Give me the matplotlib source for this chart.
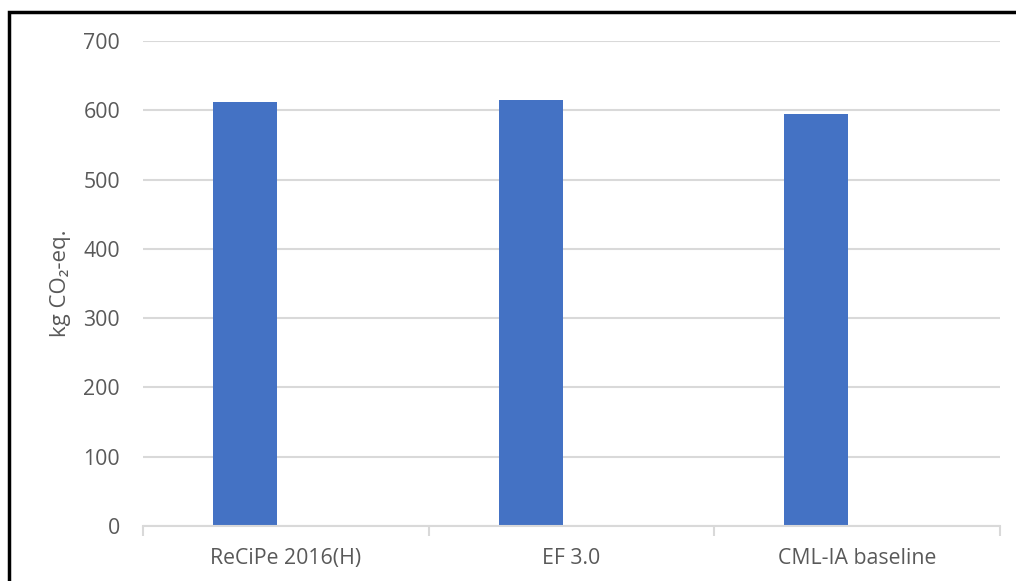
import matplotlib.pyplot as plt
from matplotlib.patches import Rectangle
import numpy as np

# impact method results, global warming
methods = ["ReCiPe 2016(H)", "EF 3.0", "CML-IA baseline"]
gwp = [612, 615, 595]
y_ticks = [0, 100, 200, 300, 400, 500, 600, 700]

BAR_COLOR = "#4472C4"
GRID_COLOR = "#d9d9d9"
TEXT_COLOR = "#595959"
FS = 15.3

plt.rcParams["font.family"] = ["Open Sans", "DejaVu Sans"]

fig = plt.figure(figsize=(10.16, 5.81), dpi=100)
W, H = 1016, 581
ax = fig.add_axes([143 / W, (H - 526) / H, (1000 - 143) / W, (526 - 41) / H])

x = np.arange(len(methods))
# bars sit left of the category centre (second series slot is empty)
ax.bar(x - 0.143, gwp, width=0.224, color=BAR_COLOR, zorder=3)

ax.set_xlim(-0.5, len(methods) - 0.5)
ax.set_ylim(0, 700)
ax.set_yticks(y_ticks)
ax.set_xticks(x)
ax.set_xticklabels(methods)
ax.set_xticks(np.arange(len(methods) + 1) - 0.5, minor=True)

ax.grid(axis="y", color=GRID_COLOR, linewidth=1.5, zorder=0)
for side in ["top", "right", "left"]:
    ax.spines[side].set_visible(False)
ax.spines["bottom"].set_color(GRID_COLOR)
ax.spines["bottom"].set_linewidth(1.5)
ax.spines["bottom"].set_zorder(4)

ax.tick_params(axis="y", length=0, pad=16.5, labelsize=FS, labelcolor=TEXT_COLOR)
ax.tick_params(axis="x", which="major", length=0, pad=16, labelsize=FS, labelcolor=TEXT_COLOR)
ax.tick_params(axis="x", which="minor", length=7, width=1.5, color=GRID_COLOR)

ax.set_ylabel("kg CO₂-eq.", fontsize=16, color=TEXT_COLOR, labelpad=9)

# outer frame around the chart
fig.patches.append(Rectangle((9 / W, -0.1), 1.2, 1 - 12.5 / H + 0.1,
                             transform=fig.transFigure, fill=False,
                             edgecolor="black", linewidth=2.5, clip_on=False))

fig.savefig("out.png", dpi=100)
